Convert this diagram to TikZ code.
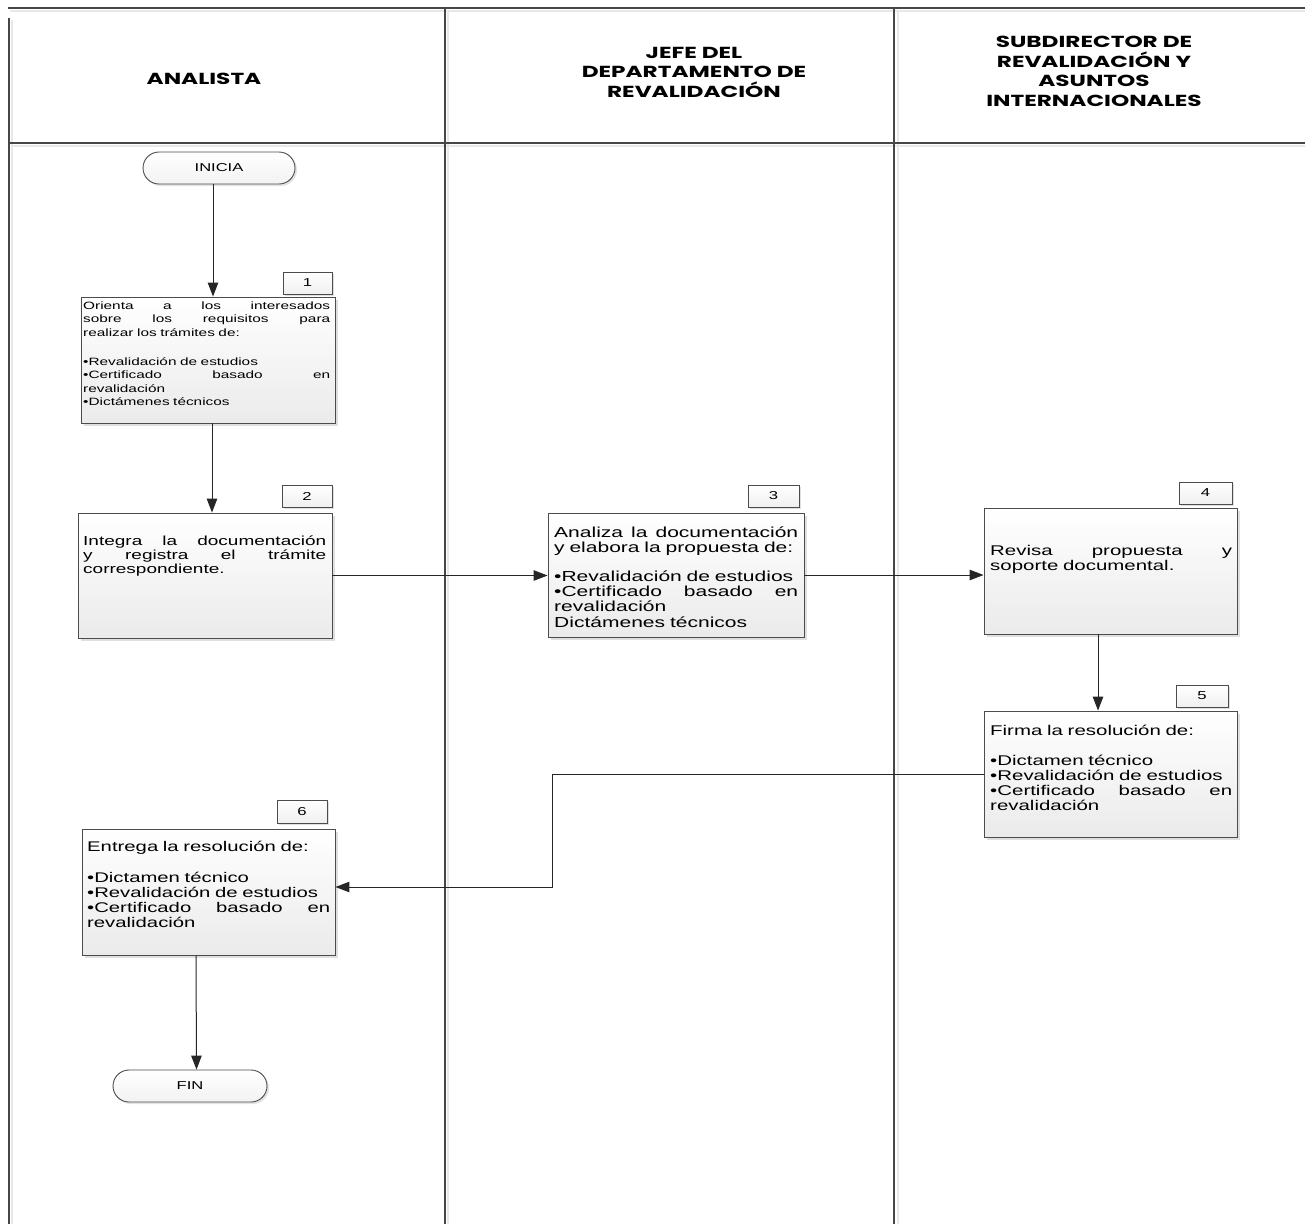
\documentclass[tikz,border=0pt]{standalone}
\usepackage{fontspec}
\setmainfont{Liberation Sans}[FakeStretch=1.45]
\newfontfamily\hdfont{Poppins}[FakeStretch=1.45]
\usetikzlibrary{arrows.meta,shapes.misc,shadows}
\tikzset{
  frame/.style={draw=gray!55!black, line width=1.3pt},
  frameshadow/.style={draw=gray!18, line width=1.5pt},
  box/.style={draw=gray!60!black, line width=0.9pt, top color=white, bottom color=gray!16,
    general shadow={shadow xshift=3pt, shadow yshift=-3pt, fill=gray!25}, inner sep=0pt},
  numbox/.style={draw=gray!60!black, line width=0.8pt, top color=white, bottom color=gray!12,
    general shadow={shadow xshift=2pt, shadow yshift=-2pt, fill=gray!25}, inner sep=0pt,
    font=\fontsize{11.5}{13}\selectfont},
  term/.style={rounded rectangle, draw=gray!60!black, line width=0.9pt, top color=white, bottom color=gray!10,
    general shadow={shadow xshift=2pt, shadow yshift=-2pt, fill=gray!22}, inner sep=0pt,
    minimum height=32pt, font=\fontsize{11.4}{13}\selectfont},
  txt/.style={anchor=base west, inner sep=0pt, align=left},
  hd/.style={font=\hdfont\bfseries\fontsize{16}{19.5}\selectfont, align=center, inner sep=0pt},
  arr/.style={draw=gray!30!black, line width=1pt, -{Triangle[length=14pt,width=10.5pt]}},
}
\begin{document}
\begin{tikzpicture}[x=1pt,y=-1pt]
\useasboundingbox[fill=white] (0,0) rectangle (1305,1224);
% swimlane frame
\draw[frameshadow] (10,11) -- (1305,11);
\draw[frameshadow] (12,146) -- (1305,146);
\draw[frameshadow] (12,20) -- (12,1224);
\draw[frameshadow] (448,11) -- (448,1224);
\draw[frameshadow] (898,11) -- (898,1224);
\draw[frame] (8,8) -- (1305,8);
\draw[frame] (9,18) -- (9,1224);
\draw[frame] (9,143) -- (1305,143);
\draw[frame] (445,8) -- (445,1224);
\draw[frame] (894,8) -- (894,1224);
% headers
\node[hd] (h1) at (204,79) {ANALISTA};
\node[hd] (h2) at (694,72) {JEFE DEL\\DEPARTAMENTO DE\\REVALIDACIÓN};
\node[hd] (h3) at (1094,71.5) {SUBDIRECTOR DE\\REVALIDACIÓN Y\\ASUNTOS\\INTERNACIONALES};
% terminals
\node[term, minimum width=152pt] (ini) at (219,168) {INICIA};
\node[term, minimum width=154pt] (fin) at (190,1086) {FIN};
% boxes
\node[box, minimum width=254pt, minimum height=126pt] (b1) at (208,360) {};
\node[box, minimum width=254pt, minimum height=125pt] (b2) at (205,575.5) {};
\node[box, minimum width=256pt, minimum height=124pt] (b3) at (676,575) {};
\node[box, minimum width=253pt, minimum height=126pt] (b4) at (1110.5,571) {};
\node[box, minimum width=253pt, minimum height=126pt] (b5) at (1110.5,774) {};
\node[box, minimum width=253pt, minimum height=126pt] (b6) at (208.5,892) {};
% number boxes
\node[numbox, minimum width=49pt, minimum height=22pt] (n1) at (307.5,283) {1};
\node[numbox, minimum width=50pt, minimum height=22pt] (n2) at (307,496) {2};
\node[numbox, minimum width=51pt, minimum height=22pt] (n3) at (773.5,496) {3};
\node[numbox, minimum width=53pt, minimum height=22pt] (n4) at (1205.5,493) {4};
\node[numbox, minimum width=52pt, minimum height=22pt] (n5) at (1202,696) {5};
\node[numbox, minimum width=50pt, minimum height=23pt] (n6) at (302,811.5) {6};
% box texts
\node[txt, text width=247pt, font=\fontsize{10.6}{13.3}\selectfont] (t1) at (83,309.5) {%
Orienta\hfill a\hfill los\hfill interesados\\
sobre\hfill los\hfill requisitos\hfill para\\
realizar los trámites de:\\[16pt]
•Revalidación de estudios\\
•Certificado\hfill basado\hfill en\\
revalidación\\
•Dictámenes técnicos};
\node[txt, text width=243pt, font=\fontsize{13.1}{14}\selectfont] (t2) at (83,545) {%
Integra\hfill la\hfill documentación\\
y\hfill registra\hfill el\hfill trámite\\
correspondiente.};
\node[txt, text width=244pt, font=\fontsize{14.5}{15.2}\selectfont] (t3) at (554,537) {%
Analiza\hfill la\hfill documentación\\
y elabora la propuesta de:\\[14pt]
•Revalidación de estudios\\
•Certificado\hfill basado\hfill en\\
revalidación\\
Dictámenes técnicos};
\node[txt, text width=242pt, font=\fontsize{14.1}{15}\selectfont] (t4) at (990,555) {%
Revisa\hfill propuesta\hfill y\\
soporte documental.};
\node[txt, text width=242pt, font=\fontsize{14.1}{14.8}\selectfont] (t5) at (990,735) {%
Firma la resolución de:\\[16pt]
•Dictamen técnico\\
•Revalidación de estudios\\
•Certificado\hfill basado\hfill en\\
revalidación};
\node[txt, text width=243pt, font=\fontsize{14}{15.2}\selectfont] (t6) at (87,851) {%
Entrega la resolución de:\\[16pt]
•Dictamen técnico\\
•Revalidación de estudios\\
•Certificado\hfill basado\hfill en\\
revalidación};
% connectors
\coordinate (c1) at (552,887);
\draw[arr] ([xshift=-6pt]ini.south) -- ([xshift=5pt]b1.north);
\draw[arr] ([xshift=4pt]b1.south) -- ([xshift=7pt]b2.north);
\draw[arr] (b2.east) -- (b2.east -| b3.west);
\draw[arr] (b3.east) -- (b3.east -| b4.west);
\draw[arr] ([xshift=-12.5pt]b4.south) -- ([xshift=-12.5pt]b5.north);
\draw[arr] (b5.west) -| (c1) -- (c1 -| b6.east);
\draw[arr] ([xshift=-12.5pt]b6.south) -- ([xshift=6.5pt]fin.north);
\end{tikzpicture}
\end{document}
